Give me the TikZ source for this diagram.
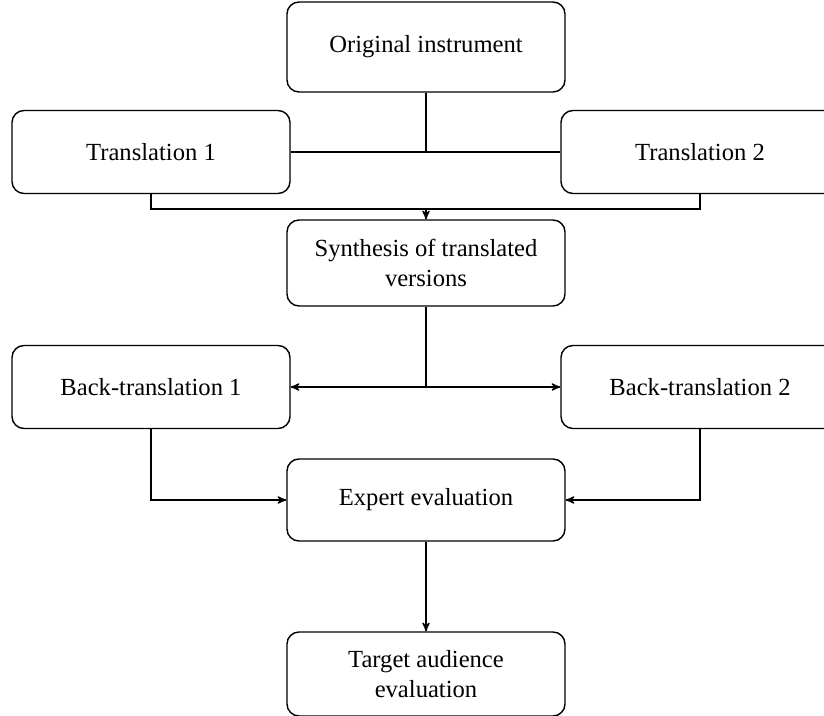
\documentclass[tikz,border=0pt]{standalone}
\usepackage{fontspec}
\setmainfont{Liberation Serif}
\usepackage{tikz}
\usetikzlibrary{arrows, positioning}

\begin{document}
\begin{tikzpicture}[->,
				>=stealth',
				line width=0.8pt,
				stagebox/.style={draw, -, rounded corners=0.24cm, minimum width=5.56cm,
					minimum height=1.66cm, align=center, inner sep=2pt,
					font=\fontsize{14}{17.5}\selectfont}]
				
				\useasboundingbox (0,0) rectangle (16.48,14.32);
				\clip (0,0) rectangle (16.48,14.32);
				
				\node[stagebox, minimum height=1.8cm] (orig) at (8.52,13.38) {Original instrument};
				\node[stagebox] (tr1) at (3.02,11.28) {Translation 1};
				\node[stagebox] (tr2) at (14.0,11.28) {Translation 2};
				\node[stagebox, minimum height=1.72cm] (synth) at (8.52,9.06) {Synthesis of translated\\versions};
				\node[stagebox] (bt1) at (3.02,6.58) {Back-translation 1};
				\node[stagebox] (bt2) at (14.0,6.58) {Back-translation 2};
				\node[stagebox, minimum height=1.64cm] (expert) at (8.52,4.32) {Expert evaluation};
				\node[stagebox, minimum height=1.68cm] (target) at (8.52,0.84) {Target audience\\evaluation};
				
				\coordinate (merge) at (8.52,10.14);
				\coordinate (fork) at (synth |- bt1);
				
				\draw[-] (orig.south) -- (orig |- tr1);
				\draw[-] (tr1.east) -- (tr2.west);
				\draw[-] (tr1.south) |- (merge) -| (tr2.south);
				\draw[->] (merge) -- (synth.north);
				\draw[-] (synth.south) -- (fork);
				\draw[->] (fork) -- (bt1.east);
				\draw[->] (fork) -- (bt2.west);
				\draw[->] (bt1.south) |- (expert.west);
				\draw[->] (bt2.south) |- (expert.east);
				\draw[->] (expert.south) -- (target.north);
			\end{tikzpicture}
\end{document}
